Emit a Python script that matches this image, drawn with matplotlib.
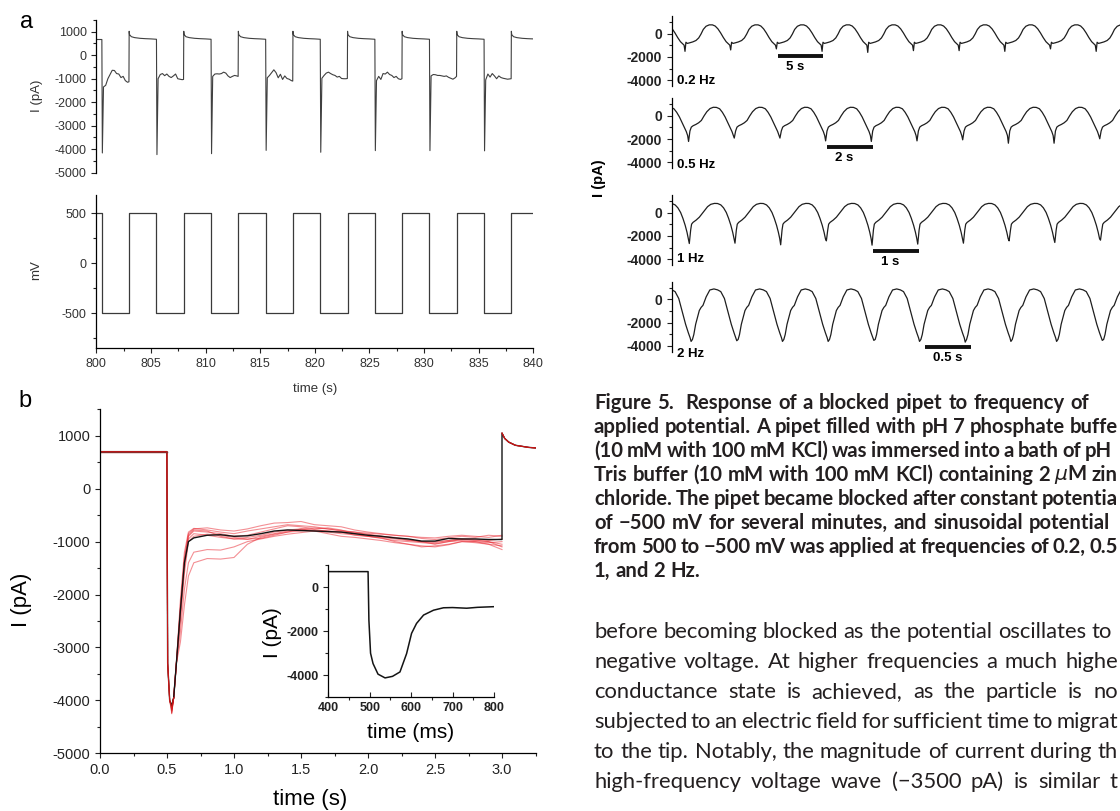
import numpy as np
import matplotlib
matplotlib.use("Agg")
import matplotlib.pyplot as plt
from matplotlib.ticker import MultipleLocator

plt.rcParams["font.family"] = ["Liberation Sans", "DejaVu Sans"]
plt.rcParams["axes.unicode_minus"] = False

W, H = 1120, 811

# ---------------- panel a: square-wave protocol and current ----------------
step_t = [800.0, 800.5, 803.0, 805.5, 808.0, 810.5, 813.0, 815.5, 818.0, 820.5,
          823.0, 825.5, 828.0, 830.5, 833.0, 835.5, 838.0, 840.0]
step_mv = [500, -500, 500, -500, 500, -500, 500, -500, 500, -500,
           500, -500, 500, -500, 500, -500, 500, 500]

down_t = [800.5, 805.5, 810.5, 815.5, 820.5, 825.5, 830.5, 835.5]
up_t = [803.0, 808.0, 813.0, 818.0, 823.0, 828.0, 833.0, 838.0]
start_level = 670
spike_min = [-4160, -4230, -4190, -4050, -4130, -4060, -4060, -4070]
plateau_off = [0.15, 0.35, 0.55, 0.75, 0.95, 1.15, 1.35, 1.55, 1.75, 1.95, 2.15, 2.35, 2.48]
plateau = [
    [-1350, -1280, -1000, -820, -640, -650, -780, -800, -950, -900, -1080, -1150, -1130],
    [-1000, -820, -780, -870, -800, -900, -950, -880, -800, -1000, -1020, -1040, -1030],
    [-900, -800, -790, -800, -780, -720, -760, -880, -950, -900, -860, -880, -900],
    [-960, -860, -740, -620, -740, -960, -810, -1030, -880, -990, -1020, -1080, -1100],
    [-980, -860, -760, -720, -780, -830, -860, -930, -900, -990, -1000, -1000, -990],
    [-1080, -900, -1030, -780, -800, -720, -820, -860, -950, -900, -1000, -1030, -1000],
    [-880, -820, -830, -860, -860, -880, -900, -880, -940, -980, -1020, -960, -900],
    [-1050, -800, -930, -780, -880, -1000, -880, -950, -980, -1000, -1020, -1010, -1000],
]
high_off = [0.0, 0.03, 0.2, 0.5, 1.0, 1.5, 2.0, 2.45]
high_val = [1020, 880, 790, 750, 720, 705, 695, 680]

# ---------------- panel b: step responses ----------------
b_mean_t = [0.0, 0.499, 0.505, 0.52, 0.535, 0.55, 0.57, 0.60, 0.63, 0.66,
            0.7, 0.8, 0.9, 1.0, 1.1, 1.2, 1.3, 1.4, 1.5, 1.6, 1.7, 1.8, 1.9, 2.0,
            2.1, 2.2, 2.3, 2.4, 2.5, 2.6, 2.7, 2.8, 2.9, 3.0,
            3.0, 3.02, 3.05, 3.1, 3.2, 3.25]
b_mean_i = [700, 700, -3300, -4000, -4100, -3950, -3300, -2300, -1400, -1000,
            -930, -880, -870, -900, -890, -850, -800, -780, -790, -800, -810, -820, -850, -880,
            -900, -930, -950, -990, -990, -940, -950, -950, -960, -960,
            1050, 950, 880, 820, 780, 770]

red_head_t = [0.0, 0.499, 0.505, 0.52, 0.535, 0.55, 0.57]
red_head_i = [700, 700, -3300, -4000, None, -3950, -3300]
red_min = [-4150, -4200, -4120, -4230, -4180, -4100, -4250, -4160]
red_t = [0.60, 0.63, 0.66, 0.7, 0.8, 0.9, 1.0, 1.1, 1.2, 1.3, 1.4, 1.5, 1.6, 1.7,
         1.8, 1.9, 2.0, 2.1, 2.2, 2.3, 2.4, 2.5, 2.6, 2.7, 2.8, 2.9, 3.0]
red_traces = [
    [-2200, -1300, -850, -760, -740, -780, -800, -760, -700, -650, -640, -620, -680, -700,
     -720, -780, -820, -850, -880, -900, -920, -930, -900, -880, -900, -920, -880],
    [-2300, -1400, -900, -800, -820, -850, -900, -880, -820, -760, -700, -720, -760, -740,
     -780, -850, -900, -940, -980, -1000, -1020, -1040, -1000, -960, -980, -1000, -1050],
    [-2900, -2200, -1650, -1400, -1320, -1330, -1300, -1050, -920, -860, -820, -800, -780, -800,
     -820, -880, -900, -920, -950, -980, -1000, -1020, -980, -950, -970, -1000, -1100],
    [-2700, -1900, -1400, -1200, -1150, -1160, -1100, -1000, -950, -900, -860, -830, -800, -820,
     -850, -870, -900, -930, -1000, -1050, -1100, -1080, -1050, -1000, -1020, -1050, -1150],
    [-2100, -1200, -820, -750, -780, -820, -850, -800, -760, -720, -680, -700, -720, -760,
     -800, -820, -840, -860, -880, -900, -940, -960, -930, -900, -920, -880, -900],
    [-2400, -1500, -950, -850, -880, -920, -950, -920, -880, -820, -780, -760, -800, -850,
     -900, -920, -950, -980, -1020, -1050, -1080, -1100, -1060, -1000, -1000, -1020, -1000],
    [-2300, -1350, -880, -780, -800, -900, -950, -960, -900, -850, -800, -770, -780, -800,
     -820, -840, -860, -900, -920, -960, -1000, -1000, -980, -950, -950, -980, -950],
    [-2500, -1600, -1000, -900, -860, -880, -920, -950, -940, -880, -820, -760, -740, -760,
     -790, -820, -870, -900, -930, -970, -1000, -1050, -1000, -980, -1000, -1050, -1080],
]
tail_t = [3.0, 3.02, 3.05, 3.1, 3.2, 3.25]
tail_i = [1050, 950, 880, 820, 780, 770]

inset_t = [400, 496, 498, 502, 508, 520, 537, 555, 573, 589, 601, 613, 630, 654, 678, 700, 734, 760, 800]
inset_i = [700, 700, -1500, -3000, -3470, -3950, -4120, -4050, -3850, -3020, -2100, -1650,
           -1270, -1050, -940, -930, -960, -920, -890]

# ---------------- right column: sinusoidal potential ----------------
freq_labels = ["0.2 Hz", "0.5 Hz", "1 Hz", "2 Hz"]
periods = [5.0, 2.0, 1.0, 0.5]
first_min = [0.289, 0.367, 0.383, 0.422]          # phase of first minimum
cycle_min = [
    [-1530, -1410, -1320, -1530, -1620, -1470, -1470, -1530, -1320, -1530],
    [-2200, -1910, -1910, -2150, -2200, -2150, -2060, -2350, -2350, -1970],
    [-2660, -2630, -2770, -2430, -2800, -2710, -2630, -2430, -2570, -2370],
    [-3620, -3560, -3620, -3620, -3530, -3620, -3680, -3620, -3620, -3530],
]
shape_phase = [
    [0.02, 0.05, 0.10, 0.17, 0.24, 0.30, 0.35, 0.40, 0.46, 0.53, 0.60, 0.66, 0.72, 0.78, 0.84, 0.90, 0.95, 0.98],
    [0.03, 0.06, 0.10, 0.16, 0.22, 0.28, 0.34, 0.40, 0.47, 0.54, 0.61, 0.68, 0.74, 0.80, 0.86, 0.91, 0.95, 0.98],
    [0.03, 0.05, 0.08, 0.15, 0.22, 0.28, 0.34, 0.40, 0.47, 0.55, 0.62, 0.69, 0.75, 0.81, 0.86, 0.91, 0.95, 0.98],
    [0.03, 0.06, 0.10, 0.18, 0.22, 0.26, 0.33, 0.41, 0.50, 0.58, 0.65, 0.73, 0.80, 0.88, 0.94, 0.98],
]
shape_val = [
    [-750, -850, -800, -720, -600, -380, -50, 350, 620, 740, 740, 640, 400, 50, -350, -700, -880, -1000],
    [-1300, -970, -850, -740, -600, -400, 0, 350, 620, 730, 720, 600, 300, -100, -600, -1000, -1350, -1700],
    [-1500, -1000, -850, -650, -400, -100, 200, 500, 700, 780, 770, 650, 400, 0, -500, -1100, -1700, -2250],
    [-3450, -3030, -2150, -970, -700, -530, 200, 790, 880, 800, 650, 60, -970, -2150, -2880, -3320],
]
bar_start = [11.6, 6.8, 4.41, 2.77]
bar_y = [-1900, -2650, -3290, -4100]
bar_labels = ["5 s", "2 s", "1 s", "0.5 s"]
freq_y = [-4100, -4200, -4000, -4700]
row_box = [(16, 86), (98.3, 168.3), (195, 265), (281.7, 351.7)]

# text as far as it shows inside the frame
caption = [
    "Figure 5.  Response of a blocked pipet to frequency of",
    "applied potential. A pipet filled with pH 7 phosphate buffe",
    "(10 mM with 100 mM KCl) was immersed into a bath of pH",
    "Tris buffer (10 mM with 100 mM KCl) containing 2 $\\mu$M zin",
    "chloride. The pipet became blocked after constant potentia",
    "of \u2212500 mV for several minutes, and sinusoidal potential",
    "from 500 to \u2212500 mV was applied at frequencies of 0.2, 0.5",
    "1, and 2 Hz.",
]
caption_end = [1089, 1118, 1112, 1118, 1118, 1110, 1118, None]
body = [
    "before becoming blocked as the potential oscillates to",
    "negative voltage. At higher frequencies a much highe",
    "conductance state is achieved, as the particle is no",
    "subjected to an electric field for sufficient time to migrat",
    "to the tip. Notably, the magnitude of current during th",
    "high-frequency voltage wave (\u22123500 pA) is similar t",
]
body_end = [1112, 1118, 1118, 1118, 1118, 1118]


def box(x0, y0, x1, y1):
    """pixel box (top-left origin) -> figure fraction rect"""
    return [x0 / W, 1 - y1 / H, (x1 - x0) / W, (y1 - y0) / H]


def style(ax, bottom=True):
    for s in ["top", "right"]:
        ax.spines[s].set_visible(False)
    ax.spines["bottom"].set_visible(bottom)
    ax.spines["left"].set_linewidth(0.9)
    ax.spines["bottom"].set_linewidth(0.9)
    ax.tick_params(which="both", direction="out", width=0.8, colors="#222222")
    ax.tick_params(which="major", length=3.5)
    ax.tick_params(which="minor", length=2)
    ax.patch.set_alpha(0)


fig = plt.figure(figsize=(W / 100, H / 100), dpi=100)
renderer = fig.canvas.get_renderer()

# ---- a, current
ax1 = fig.add_axes(box(96.4, 20, 533.2, 172.7))
t_a, i_a = [800.0], [start_level]
for k in range(len(down_t)):
    td, tu = down_t[k], up_t[k]
    t_a += [td, td + 0.045]
    i_a += [i_a[-1], spike_min[k]]
    t_a += [td + o for o in plateau_off]
    i_a += plateau[k]
    t_a += [tu + o for o in high_off]
    i_a += high_val
ax1.plot(t_a, i_a, color="#404040", lw=0.8)
ax1.set_xlim(800, 840)
ax1.set_ylim(-5000, 1500)
style(ax1, bottom=False)
ax1.set_xticks([])
ax1.set_yticks(range(-5000, 1001, 1000))
ax1.yaxis.set_minor_locator(MultipleLocator(500))
ax1.tick_params(axis="y", labelsize=9, labelcolor="#333333")

# ---- a, voltage
ax2 = fig.add_axes(box(96.4, 195, 533.2, 348.3))
ax2.plot(step_t, step_mv, drawstyle="steps-post", color="#3a3a3a", lw=0.9)
ax2.set_xlim(800, 840)
ax2.set_ylim(-850, 683)
style(ax2)
ax2.set_yticks([-500, 0, 500])
ax2.yaxis.set_minor_locator(MultipleLocator(250))
ax2.set_xticks(range(800, 841, 5))
ax2.xaxis.set_minor_locator(MultipleLocator(2.5))
ax2.tick_params(labelsize=9, labelcolor="#333333")

fig.text(27 / W, 1 - 22 / H, "a", fontsize=17, ha="center", va="center")
fig.text(37 / W, 1 - 96 / H, "I (pA)", fontsize=9.5, rotation=90, ha="center", va="center", color="#333333")
fig.text(36 / W, 1 - 270 / H, "mV", fontsize=9.5, rotation=90, ha="center", va="center", color="#333333")
fig.text(315 / W, 1 - 389 / H, "time (s)", fontsize=9.5, ha="center", va="center", color="#333333")

# ---- b
ax3 = fig.add_axes(box(100, 409.3, 535.5, 753.3))
for m, tr in zip(red_min, red_traces):
    head = [m if v is None else v for v in red_head_i]
    ax3.plot(red_head_t[4:] + red_t, head[4:] + tr, color="#e8202a", lw=0.8, alpha=0.5)
ax3.plot(b_mean_t, b_mean_i, color="#141414", lw=1.0)
for m in red_min:
    head = [m if v is None else v for v in red_head_i]
    ax3.plot(red_head_t[:6], head[:6], color="#d01818", lw=0.7, alpha=0.35)
    ax3.plot(tail_t, tail_i, color="#d01818", lw=0.7, alpha=0.35)
ax3.plot([0.0, 0.499], [700, 700], color="#8a2a2a", lw=1.0)
ax3.set_xlim(0, 3.25)
ax3.set_ylim(-5000, 1500)
style(ax3)
ax3.set_yticks(range(-5000, 1001, 1000))
ax3.yaxis.set_minor_locator(MultipleLocator(500))
ax3.set_xticks([0.0, 0.5, 1.0, 1.5, 2.0, 2.5, 3.0])
ax3.set_xticklabels(["0.0", "0.5", "1.0", "1.5", "2.0", "2.5", "3.0"])
ax3.xaxis.set_minor_locator(MultipleLocator(0.25))
ax3.tick_params(labelsize=10.5, labelcolor="#222222")
fig.text(25 / W, 1 - 401 / H, "b", fontsize=17, ha="center", va="center")
fig.text(22 / W, 1 - 600 / H, "I (pA)", fontsize=16, rotation=90, ha="center", va="center")
fig.text(310 / W, 1 - 799 / H, "time (s)", fontsize=16, ha="center", va="center")

# ---- b inset
ax4 = fig.add_axes(box(328.3, 565, 494, 697.3))
ax4.plot(inset_t, inset_i, color="#141414", lw=1.1)
ax4.set_xlim(400, 800)
ax4.set_ylim(-5000, 1000)
style(ax4)
ax4.set_yticks([-4000, -2000, 0])
ax4.yaxis.set_minor_locator(MultipleLocator(1000))
ax4.set_xticks([400, 500, 600, 700, 800])
ax4.xaxis.set_minor_locator(MultipleLocator(50))
ax4.tick_params(axis="x", direction="in")
ax4.tick_params(labelsize=9)
for lab in ax4.get_xticklabels() + ax4.get_yticklabels():
    lab.set_fontweight("bold")
fig.text(273 / W, 1 - 633 / H, "I (pA)", fontsize=15, rotation=90, ha="center", va="center")
fig.text(411 / W, 1 - 733 / H, "time (ms)", fontsize=15, ha="center", va="center")

# ---- right column
for r in range(4):
    y0, y1 = row_box[r]
    ax = fig.add_axes(box(671.8, y0, W, y1))
    P = periods[r]
    tt, vv = [], []
    for k in range(-1, 10):
        base = first_min[r] + k
        tt += [base * P] + [(base + p) * P for p in shape_phase[r]]
        vv += [cycle_min[r][max(k, 0)]] + shape_val[r]
    ax.plot(tt, vv, color="#1e1e1e", lw=0.9)
    ax.set_xlim(0, 9.81 * P)
    ax.set_ylim(-4500, 1500)
    style(ax, bottom=False)
    ax.set_xticks([])
    ax.set_yticks([-4000, -2000, 0])
    ax.yaxis.set_minor_locator(MultipleLocator(1000))
    ax.tick_params(axis="y", labelsize=10)
    for lab in ax.get_yticklabels():
        lab.set_fontweight("bold")
    ax.plot([bar_start[r], bar_start[r] + P], [bar_y[r], bar_y[r]], color="#111111",
            lw=2.8, solid_capstyle="butt", clip_on=False)
    ax.text(bar_start[r] + 0.17 * P, bar_y[r] - 950, bar_labels[r], fontsize=9.5,
            fontweight="bold", ha="left", va="center", clip_on=False)
    ax.text(0.012, freq_y[r], freq_labels[r], transform=ax.get_yaxis_transform(),
            fontsize=9.5, fontweight="bold", ha="left", va="center")
fig.text(599 / W, 1 - 178 / H, "I (pA)", fontsize=10.5, fontweight="bold", rotation=90,
         ha="center", va="center")

# ---- caption and body text
TXT_FONT = ["Lato", "DejaVu Sans"]
TXT_COLOR = "#231f20"


def word_widths(words, size, weight):
    items = [fig.text(0, 0, w, fontsize=size, fontweight=weight, family=TXT_FONT) for w in words]
    ws = [it.get_window_extent(renderer).width if w else 0.0 for it, w in zip(items, words)]
    for it in items:
        it.remove()
    return ws


def space_width(size, weight):
    a, b = word_widths(["n n", "nn"], size, weight)
    return a - b


def natural_width(line, size, weight):
    words = line.split(" ")
    return sum(word_widths(words, size, weight)) + (len(words) - 1) * space_width(size, weight)


def place_line(line, x0, y, size, weight, x1=None):
    words = line.split(" ")
    ws = word_widths(words, size, weight)
    if x1 is None:
        gap = space_width(size, weight)
    else:
        gap = (x1 - x0 - sum(ws)) / (len(words) - 1)
    x = x0
    for w, wd in zip(words, ws):
        if w:
            fig.text(x / W, 1 - y / H, w, fontsize=size, fontweight=weight, family=TXT_FONT,
                     color=TXT_COLOR, ha="left", va="center")
        x += wd + gap


def fit_size(lines, ends, weight):
    # median of the sizes at which each line fills its width with normal spacing
    sizes = [10 * (e - 594) / natural_width(l, 10, weight)
             for l, e in zip(lines, ends) if e is not None]
    return float(np.median(sizes))


cap_size = fit_size(caption, caption_end, "bold")
body_size = fit_size(body[:2] + body[3:5], body_end[:2] + body_end[3:5], "normal")

for n, line in enumerate(caption):
    place_line(line, 594, 403 + 24 * n, cap_size, "bold", caption_end[n])
for n, line in enumerate(body):
    place_line(line, 594, 632 + 30 * n, body_size, "normal", body_end[n])

fig.savefig("out.png", dpi=100)
